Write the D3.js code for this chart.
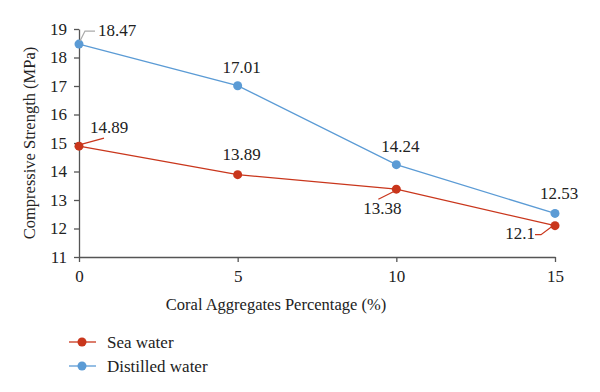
<!DOCTYPE html>
<html><head><meta charset="utf-8">
<script src="https://cdn.jsdelivr.net/npm/d3@7"></script>
<style>html,body{margin:0;padding:0;background:#fff;}svg{display:block;}svg text{font-family:"Liberation Serif","Times New Roman",serif;}</style>
</head><body><svg id="c" width="600" height="392"></svg>
<script>
const categories = [0, 5, 10, 15];
const seaWater = [14.89, 13.89, 13.38, 12.1];
const distilledWater = [18.47, 17.01, 14.24, 12.53];
const yTicks = [11, 12, 13, 14, 15, 16, 17, 18, 19];
const seriesNames = ["Sea water", "Distilled water"];
const colors = ["#c9361c", "#5b9bd5"];

const FONT = "Liberation Serif";
const FS = 17;
const svg = d3.select("#c");
const x = d3.scaleLinear().domain([0, 15]).range([79, 555]);
const y = d3.scaleLinear().domain([11, 19]).range([257, 29]);

// axes
const yAxis = svg.append("g").attr("transform", "translate(79,0)")
  .call(d3.axisLeft(y).tickValues(yTicks).tickSize(5).tickSizeOuter(0).tickPadding(7));
const xAxis = svg.append("g").attr("transform", "translate(0,257)")
  .call(d3.axisBottom(x).tickValues(categories).tickSize(5).tickSizeOuter(0).tickPadding(8));
[yAxis, xAxis].forEach(g => {
  g.attr("font-family", FONT).attr("font-size", FS);
  g.selectAll("path,line").attr("stroke", "#555").attr("stroke-width", 1.3);
  g.selectAll("text").attr("font-family", FONT).attr("font-size", FS).attr("fill", "#222");
});

svg.append("text").attr("x", 276).attr("y", 310).attr("text-anchor", "middle")
  .attr("font-family", FONT).attr("font-size", 16.5).attr("fill", "#222").text("Coral Aggregates Percentage (%)");
svg.append("text").attr("transform", "translate(35,143) rotate(-90)").attr("text-anchor", "middle")
  .attr("font-family", FONT).attr("font-size", 16.5).attr("fill", "#222").text("Compressive Strength (MPa)");

const series = [seaWater, distilledWater];
const line = d3.line().x((d, i) => x(categories[i])).y(d => y(d));
series.forEach((vals, si) => {
  svg.append("path").datum(vals).attr("d", line).attr("fill", "none")
    .attr("stroke", colors[si]).attr("stroke-width", 1.3);
});
series.forEach((vals, si) => {
  svg.selectAll(null).data(vals).enter().append("circle")
    .attr("cx", (d, i) => x(categories[i])).attr("cy", d => y(d)).attr("r", 4.5)
    .attr("fill", colors[si]);
});

// data label layout: [dx, dy(baseline offset), anchor, leader path]
const labelLayout = [
  [ [11, -13, "start", [[3,-2],[25,-8]]], [4, -15, "middle", null], [-14, 25, "middle", [[-2,2],[-18,10]]], [-20, 13, "end", [[-2,0],[-14,9],[-20,9]]] ],
  [ [19, -8, "start", [[1,-3],[6,-13],[16,-13]]], [4, -13, "middle", null], [4, -13, "middle", null], [4, -14, "middle", null] ]
];
series.forEach((vals, si) => {
  vals.forEach((v, i) => {
    const px = x(categories[i]), py = y(v);
    const L = labelLayout[si][i];
    if (L[3]) {
      const pts = L[3].map(p => [px + p[0], py + p[1]]);
      svg.append("path").attr("d", d3.line()(pts)).attr("fill", "none")
        .attr("stroke", si === 1 ? "#aaa" : colors[si]).attr("stroke-width", 1.2);
    }
    svg.append("text").attr("x", px + L[0]).attr("y", py + L[1]).attr("text-anchor", L[2])
      .attr("font-family", FONT).attr("font-size", FS).attr("fill", "#222").text(String(v));
  });
});

// legend
seriesNames.forEach((name, si) => {
  const ly = 342 + si * 24;
  svg.append("line").attr("x1", 69).attr("x2", 96).attr("y1", ly).attr("y2", ly)
    .attr("stroke", colors[si]).attr("stroke-width", 1.3);
  svg.append("circle").attr("cx", 82).attr("cy", ly).attr("r", 4.5).attr("fill", colors[si]);
  svg.append("text").attr("x", 107).attr("y", ly + 5.5).attr("font-family", FONT)
    .attr("font-size", FS).attr("fill", "#222").text(name);
});
</script></body></html>
